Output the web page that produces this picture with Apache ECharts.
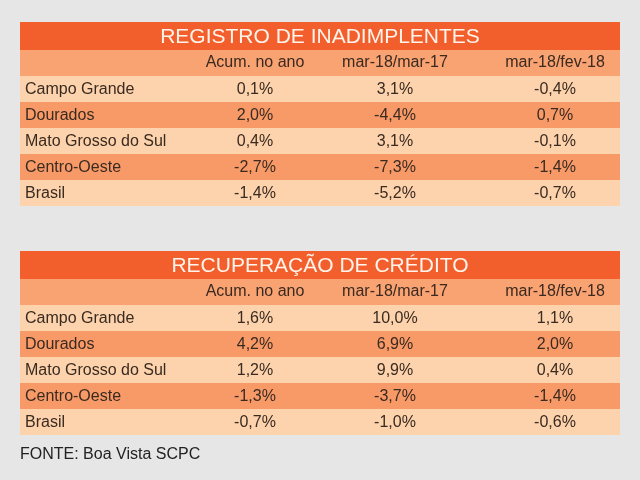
<!DOCTYPE html><html><head><meta charset="utf-8"><script src="https://cdn.jsdelivr.net/npm/echarts@6/dist/echarts.min.js"></script>
<style>html,body{margin:0;background:#e6e6e6}#c{width:640px;height:480px}</style></head><body><div id="c"></div><script>
const rowLabels=["Campo Grande","Dourados","Mato Grosso do Sul","Centro-Oeste","Brasil"];
const colHeaders=["Acum. no ano","mar-18/mar-17","mar-18/fev-18"];
const title1="REGISTRO DE INADIMPLENTES";
const acum1=["0,1%","2,0%","0,4%","-2,7%","-1,4%"];
const mar1=["3,1%","-4,4%","3,1%","-7,3%","-5,2%"];
const fev1=["-0,4%","0,7%","-0,1%","-1,4%","-0,7%"];
const title2="RECUPERAÇÃO DE CRÉDITO";
const acum2=["1,6%","4,2%","1,2%","-1,3%","-0,7%"];
const mar2=["10,0%","6,9%","9,9%","-3,7%","-1,0%"];
const fev2=["1,1%","2,0%","0,4%","-1,4%","-0,6%"];
const source="FONTE: Boa Vista SCPC";
const F='"Liberation Sans", Arial, sans-serif';
const colX=[255,395,555];
const els=[];
function table(top,title,cols){
  els.push({type:'rect',shape:{x:20,y:top,width:600,height:28},style:{fill:'#f25f2c'}});
  els.push({type:'text',x:320,y:top+15,style:{text:title,fill:'#fff3ea',font:'21px '+F,align:'center',verticalAlign:'middle'}});
  const h=top+28;
  els.push({type:'rect',shape:{x:20,y:h,width:600,height:26},style:{fill:'#f9a272'}});
  colHeaders.forEach((t,i)=>els.push({type:'text',x:colX[i],y:h+13,style:{text:t,fill:'#3a2a20',font:'16px '+F,align:'center',verticalAlign:'middle'}}));
  rowLabels.forEach((r,j)=>{
    const y=h+26+j*26;
    els.push({type:'rect',shape:{x:20,y:y,width:600,height:26},style:{fill:j%2?'#f79a68':'#fcd3ac'}});
    els.push({type:'text',x:25,y:y+14,style:{text:r,fill:'#3a2a20',font:'16px '+F,verticalAlign:'middle'}});
    cols.forEach((c,i)=>els.push({type:'text',x:colX[i],y:y+14,style:{text:c[j],fill:'#3a2a20',font:'16px '+F,align:'center',verticalAlign:'middle'}}));
  });
}
table(22,title1,[acum1,mar1,fev1]);
table(251,title2,[acum2,mar2,fev2]);
els.push({type:'text',x:20,y:455,style:{text:source,fill:'#222',font:'16px '+F,verticalAlign:'middle'}});
const ch=echarts.init(document.getElementById('c'));
ch.setOption({backgroundColor:'#e6e6e6',graphic:{elements:els}});
</script></body></html>
